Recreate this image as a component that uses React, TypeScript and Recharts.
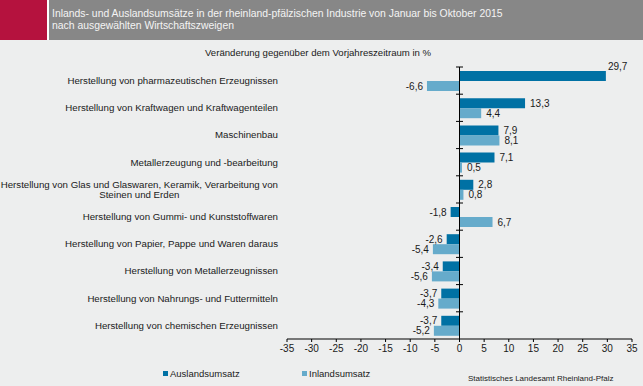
import React from "react";
import {
  BarChart,
  Bar,
  XAxis,
  YAxis,
  LabelList,
  ReferenceLine,
  Legend,
} from "recharts";

const categories = [
  "Herstellung von pharmazeutischen Erzeugnissen",
  "Herstellung von Kraftwagen und Kraftwagenteilen",
  "Maschinenbau",
  "Metallerzeugung und -bearbeitung",
  "Herstellung von Glas und Glaswaren, Keramik, Verarbeitung von\nSteinen und Erden",
  "Herstellung von Gummi- und Kunststoffwaren",
  "Herstellung von Papier, Pappe und Waren daraus",
  "Herstellung von Metallerzeugnissen",
  "Herstellung von Nahrungs- und Futtermitteln",
  "Herstellung von chemischen Erzeugnissen",
];
const auslandsumsatz = [29.7, 13.3, 7.9, 7.1, 2.8, -1.8, -2.6, -3.4, -3.7, -3.7];
const inlandsumsatz = [-6.6, 4.4, 8.1, 0.5, 0.8, 6.7, -5.4, -5.6, -4.3, -5.2];
const xTicks = [-35, -30, -25, -20, -15, -10, -5, 0, 5, 10, 15, 20, 25, 30, 35];

const DARK = "#0071a4";
const LIGHT = "#66abcb";
const BG = "#edeeee";
const FONT = "'Liberation Sans', Arial, sans-serif";
const TEXT = "#1a1a1a";

const data = categories.map((name, i) => ({
  name,
  ausland: auslandsumsatz[i],
  inland: inlandsumsatz[i],
}));

const fmt = (v: number) => v.toFixed(1).replace(".", ",");

let ctx: CanvasRenderingContext2D | null = null;
function measure(text: string, font: string) {
  if (!ctx) ctx = document.createElement("canvas").getContext("2d");
  if (!ctx) return text.length * 5;
  ctx.font = font;
  return ctx.measureText(text).width;
}

function CategoryTick(props: any) {
  const { x, y, payload } = props;
  const lines: string[] = String(payload.value).split("\n");
  const fs = 9.7;
  if (lines.length === 1) {
    return (
      <text x={x} y={y} dy="0.35em" textAnchor="end" fontSize={fs} fill={TEXT} fontFamily={FONT}>
        {lines[0]}
      </text>
    );
  }
  const w = measure(lines[0], `${fs}px ${FONT}`);
  const lh = 10;
  const top = y - ((lines.length - 1) * lh) / 2;
  return (
    <g>
      {lines.map((l, i) => (
        <text
          key={i}
          x={i === 0 ? x : x - w / 2}
          y={top + i * lh}
          dy="0.35em"
          textAnchor={i === 0 ? "end" : "middle"}
          fontSize={fs}
          fill={TEXT}
          fontFamily={FONT}
        >
          {l}
        </text>
      ))}
    </g>
  );
}

function ValueLabel(props: any) {
  const { x, y, width, height, value } = props;
  const left = Math.min(x, x + width);
  const right = Math.max(x, x + width);
  const cy = y + height / 2;
  const common = { fontSize: 10, fill: TEXT, fontFamily: FONT };
  if (value > 25) {
    return (
      <text x={right + 2} y={y - 1} textAnchor="start" {...common}>
        {fmt(value)}
      </text>
    );
  }
  if (value >= 0) {
    return (
      <text x={right + 5} y={cy} dy="0.35em" textAnchor="start" {...common}>
        {fmt(value)}
      </text>
    );
  }
  return (
    <text x={left - 4} y={cy} dy="0.35em" textAnchor="end" {...common}>
      {fmt(value)}
    </text>
  );
}

function ZeroAxis(props: any) {
  const { x1, y1, x2, y2 } = props;
  const n = categories.length;
  const step = (y2 - y1) / n;
  const top = Math.min(y1, y2);
  return (
    <g>
      <line x1={x1} y1={y1} x2={x2} y2={y2} stroke="#000" strokeWidth={1} />
      {categories.map((_, i) => (
        <line
          key={i}
          x1={x1 - 3.5}
          x2={x1 + 3.5}
          y1={top + i * Math.abs(step)}
          y2={top + i * Math.abs(step)}
          stroke="#000"
          strokeWidth={1}
        />
      ))}
    </g>
  );
}

function LegendContent() {
  const items = [
    { label: "Auslandsumsatz", color: DARK },
    { label: "Inlandsumsatz", color: LIGHT },
  ];
  return (
    <div style={{ display: "flex", fontFamily: FONT, fontSize: 9.5, color: TEXT }}>
      {items.map((it, i) => (
        <div key={it.label} style={{ display: "flex", alignItems: "center", width: i === 0 ? 139 : 80 }}>
          <span style={{ width: 5, height: 5, background: it.color, marginRight: 2 }} />
          <span>{it.label}</span>
        </div>
      ))}
    </div>
  );
}

export default function App() {
  return (
    <div
      style={{
        position: "absolute",
        left: 0,
        top: 0,
        width: 643,
        height: 386,
        background: BG,
        overflow: "hidden",
        fontFamily: FONT,
      }}
    >
      <div style={{ position: "absolute", left: 0, top: 0, width: 47, height: 40, background: "#b5123e" }} />
      <div style={{ position: "absolute", left: 47, top: 0, width: 2, height: 40, background: "#ffffff" }} />
      <div style={{ position: "absolute", left: 49, top: 0, width: 594, height: 40, background: "#878787" }} />
      <div
        style={{
          position: "absolute",
          left: 52,
          top: 8,
          fontSize: 10.4,
          lineHeight: "11.5px",
          color: "#f4f4f4",
        }}
      >
        Inlands- und Auslandsumsätze in der rheinland-pfälzischen Industrie von Januar bis Oktober 2015
        <br />
        nach ausgewählten Wirtschaftszweigen
      </div>
      <div
        style={{
          position: "absolute",
          left: 205,
          top: 47,
          fontSize: 9.6,
          color: TEXT,
          whiteSpace: "nowrap",
        }}
      >
        Veränderung gegenüber dem Vorjahreszeitraum  in %
      </div>
      <div style={{ position: "absolute", left: 0, top: 0 }}>
        <BarChart
          width={643}
          height={386}
          data={data}
          layout="vertical"
          margin={{ top: 67, right: 11, bottom: 27, left: 0 }}
          barSize={10}
          barGap={0}
        >
          <XAxis
            type="number"
            domain={[-35, 35]}
            ticks={xTicks}
            interval={0}
            height={20}
            axisLine={{ stroke: "#000" }}
            tickLine={{ stroke: "#000" }}
            tickSize={3}
            tickMargin={3}
            tick={{ fontSize: 10, fill: TEXT, fontFamily: FONT }}
          />
          <YAxis
            type="category"
            dataKey="name"
            width={287}
            axisLine={false}
            tickLine={false}
            tickMargin={3}
            interval={0}
            tick={<CategoryTick />}
          />
          <Legend
            layout="vertical"
            align="center"
            verticalAlign="middle"
            wrapperStyle={{ position: "absolute", left: 163, top: 368, width: 260 }}
            content={<LegendContent />}
          />
          <Bar dataKey="ausland" name="Auslandsumsatz" fill={DARK} isAnimationActive={false}>
            <LabelList dataKey="ausland" content={<ValueLabel />} />
          </Bar>
          <Bar dataKey="inland" name="Inlandsumsatz" fill={LIGHT} isAnimationActive={false}>
            <LabelList dataKey="inland" content={<ValueLabel />} />
          </Bar>
          <ReferenceLine x={0} shape={<ZeroAxis />} ifOverflow="extendDomain" />
        </BarChart>
      </div>
      <div
        style={{
          position: "absolute",
          left: 468,
          top: 374,
          fontSize: 8,
          color: TEXT,
          whiteSpace: "nowrap",
        }}
      >
        Statistisches Landesamt Rheinland-Pfalz
      </div>
    </div>
  );
}
